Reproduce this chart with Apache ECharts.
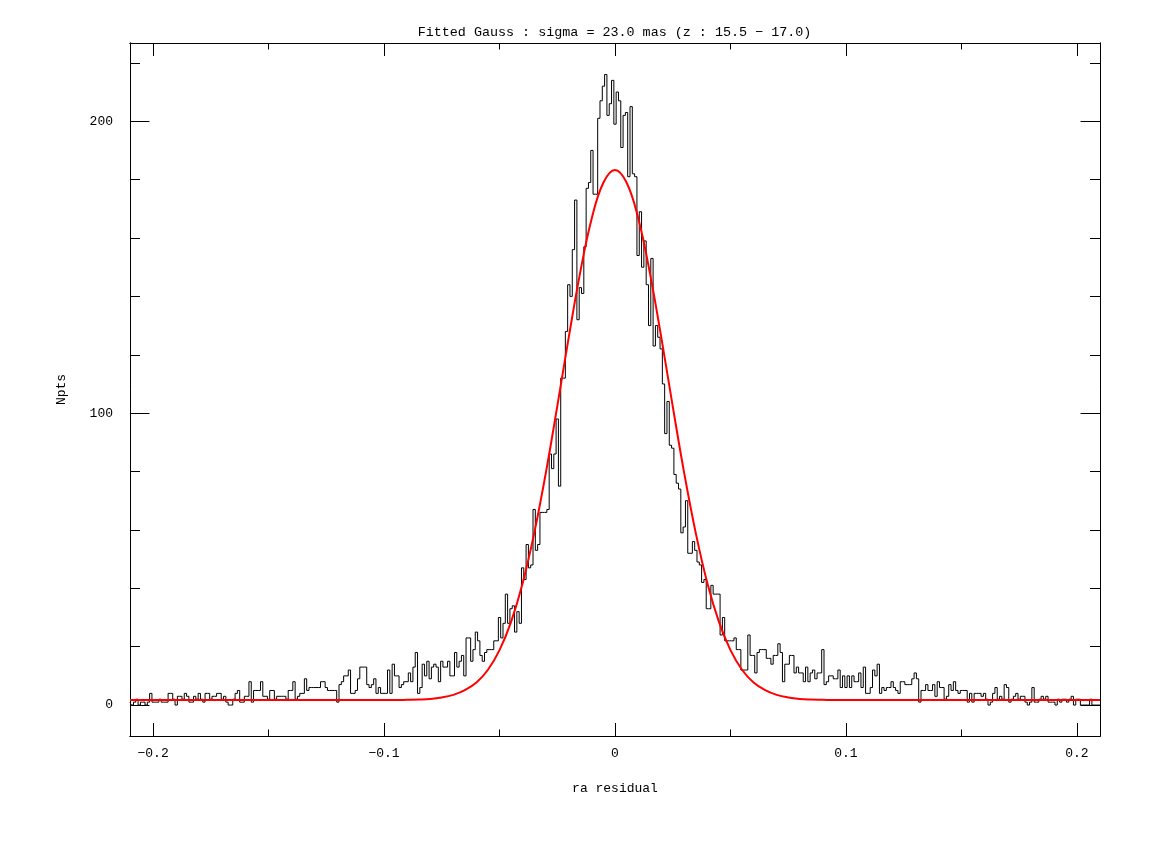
<!DOCTYPE html>
<html>
<head>
<meta charset="utf-8">
<title>Fitted Gauss</title>
<script src="https://cdn.jsdelivr.net/npm/echarts@6.0.0/dist/echarts.min.js"></script>
<style>
  html, body { margin: 0; padding: 0; background: #fff; }
  #chart { width: 1158px; height: 851px; }
</style>
</head>
<body>
<div id="chart"></div>
<script>
// histogram: bin centres start at -0.21, one bin per 0.001
const binStart = -0.21;
const binWidth = 0.001;
const counts = [
  1, 0, 1, 2, 0, 1, 1, 0, 1, 4,
  1, 1, 1, 2, 1, 1, 1, 4, 4, 2,
  0, 3, 3, 2, 4, 3, 1, 1, 3, 2,
  4, 2, 1, 4, 4, 2, 3, 3, 4, 4,
  2, 3, 1, 0, 0, 2, 4, 5, 1, 1,
  3, 3, 8, 1, 5, 5, 5, 8, 3, 3,
  2, 5, 5, 2, 3, 3, 3, 3, 2, 5,
  5, 8, 2, 3, 4, 4, 9, 5, 6, 6,
  6, 6, 6, 8, 8, 6, 5, 5, 5, 5,
  1, 7, 8, 10, 10, 12, 4, 4, 5, 9,
  13, 13, 13, 7, 6, 7, 9, 4, 6, 4,
  4, 4, 12, 4, 14, 10, 10, 6, 7, 8,
  8, 11, 8, 13, 18, 4, 6, 14, 10, 15,
  9, 13, 14, 13, 8, 15, 13, 13, 15, 10,
  10, 18, 13, 15, 17, 10, 23, 23, 15, 19,
  25, 22, 17, 15, 18, 19, 19, 19, 22, 22,
  30, 23, 28, 38, 28, 33, 34, 25, 32, 28,
  47, 43, 55, 47, 48, 67, 53, 55, 66, 66,
  66, 67, 86, 81, 86, 98, 75, 112, 112, 128,
  144, 140, 156, 173, 132, 143, 141, 157, 177, 179,
  190, 175, 175, 201, 207, 212, 216, 202, 206, 214,
  199, 210, 207, 191, 202, 203, 181, 205, 182, 181,
  154, 169, 150, 159, 144, 130, 153, 123, 130, 126,
  122, 110, 93, 104, 89, 88, 79, 76, 74, 59,
  61, 70, 52, 52, 56, 53, 49, 48, 42, 43,
  33, 33, 41, 38, 38, 38, 24, 30, 22, 22,
  22, 22, 23, 19, 19, 12, 12, 12, 24, 17,
  17, 11, 18, 19, 19, 19, 16, 16, 14, 17,
  17, 21, 18, 8, 14, 14, 17, 17, 11, 13,
  11, 11, 8, 13, 8, 11, 12, 9, 11, 11,
  19, 7, 8, 10, 10, 9, 9, 12, 6, 10,
  6, 10, 6, 10, 8, 8, 11, 6, 13, 4,
  4, 6, 12, 10, 14, 4, 6, 5, 6, 6,
  8, 6, 5, 4, 8, 8, 7, 7, 7, 9,
  11, 9, 1, 5, 5, 7, 5, 5, 7, 3,
  8, 6, 6, 2, 3, 7, 5, 8, 5, 4,
  5, 5, 5, 1, 4, 1, 4, 4, 4, 3,
  4, 2, 0, 1, 4, 6, 2, 3, 2, 7,
  6, 1, 2, 3, 4, 2, 3, 3, 1, 0,
  1, 6, 1, 1, 2, 3, 2, 3, 1, 1,
  1, 0, 2, 1, 2, 2, 1, 2, 3, 0,
  2, 2, 0, 0, 0, 0, 2, 0, 0, 0,
  0
];

// fitted gaussian
const fitX = [-0.21, -0.1, -0.095, -0.09, -0.085, -0.08, -0.075, -0.07, -0.065, -0.06,
  -0.055, -0.05, -0.045, -0.04, -0.035, -0.03, -0.025, -0.02, -0.015, -0.01,
  -0.005, 0, 0.005, 0.01, 0.015, 0.02, 0.025, 0.03, 0.035, 0.04,
  0.045, 0.05, 0.055, 0.06, 0.065, 0.07, 0.075, 0.08, 0.085, 0.09,
  0.095, 0.1, 0.21];
const fitY = [1.7, 1.7, 1.7, 1.8, 1.9, 2.1, 2.6, 3.5, 5.1, 7.7,
  12.1, 18.8, 28.5, 41.7, 58.8, 79.3, 102.3, 126.1, 148.5, 166.9,
  179.0, 183.3, 179.0, 166.9, 148.5, 126.1, 102.3, 79.3, 58.8, 41.7,
  28.5, 18.8, 12.1, 7.7, 5.1, 3.5, 2.6, 2.1, 1.9, 1.8,
  1.7, 1.7, 1.7];

const xMajor = [-0.2, -0.1, 0, 0.1, 0.2];
const xMinor = [-0.15, -0.05, 0.05, 0.15];
const yMajor = [0, 100, 200];
const yMinor = [20, 40, 60, 80, 120, 140, 160, 180, 220];

const titleText = 'Fitted Gauss : sigma = 23.0 mas (z : 15.5 \u2212 17.0)';
const fontName = '"Liberation Mono", "DejaVu Sans Mono", monospace';

const xMin = -0.21, xMax = 0.21;
const yMin = -10.6, yMax = 226.8;

const histData = counts.map((c, i) => [binStart + i * binWidth, c]);
const fitData = fitX.map((x, i) => [x, fitY[i]]);

const fmt = v => (v < 0 ? '\u2212' : '') + Math.abs(v);

function xAxis(pos, ticks, len, labels) {
  return {
    type: 'value', position: pos, min: xMin, max: xMax,
    axisLine: { show: true, onZero: false, lineStyle: { color: '#000', width: 1 } },
    axisTick: { show: true, inside: true, length: len, customValues: ticks,
      lineStyle: { color: '#000', width: 1 } },
    axisLabel: labels ? { show: true, customValues: ticks, margin: 11, color: '#000',
      fontFamily: fontName, fontSize: 13, formatter: fmt } : { show: false },
    splitLine: { show: false },
    name: labels ? 'ra residual' : '',
    nameLocation: 'middle', nameGap: 46,
    nameTextStyle: { color: '#000', fontFamily: fontName, fontSize: 13 }
  };
}

function yAxis(pos, ticks, len, labels) {
  return {
    type: 'value', position: pos, min: yMin, max: yMax,
    axisLine: { show: true, onZero: false, lineStyle: { color: '#000', width: 1 } },
    axisTick: { show: true, inside: true, length: len, customValues: ticks,
      lineStyle: { color: '#000', width: 1 } },
    axisLabel: labels ? { show: true, customValues: ticks, margin: 17, color: '#000',
      fontFamily: fontName, fontSize: 13 } : { show: false },
    splitLine: { show: false },
    name: labels ? 'Npts' : '',
    nameLocation: 'middle', nameGap: 62, nameRotate: 90,
    nameTextStyle: { color: '#000', fontFamily: fontName, fontSize: 13 }
  };
}

const chart = echarts.init(document.getElementById('chart'), null, { renderer: 'canvas' });

chart.setOption({
  animation: false,
  backgroundColor: '#fff',
  grid: { left: 130, right: 58, top: 43, bottom: 115, containLabel: false },
  graphic: [{
    type: 'text', x: 614.5, y: 32,
    style: { text: titleText, fill: '#000', font: '13.4px ' + fontName,
      textAlign: 'center', textVerticalAlign: 'middle' }
  }],
  xAxis: [
    xAxis('bottom', xMajor, 13, true),
    xAxis('bottom', xMinor, 6.5, false),
    xAxis('top', xMajor, 13, false),
    xAxis('top', xMinor, 6.5, false)
  ],
  yAxis: [
    yAxis('left', yMajor, 19.5, true),
    yAxis('left', yMinor, 10, false),
    yAxis('right', yMajor, 19.5, false),
    yAxis('right', yMinor, 10, false)
  ],
  series: [
    {
      name: 'histogram', type: 'line', step: 'middle',
      data: histData, showSymbol: false, symbol: 'none',
      lineStyle: { color: '#000', width: 1 }, z: 2
    },
    {
      name: 'fit', type: 'line', smooth: 0.4,
      data: fitData, showSymbol: false, symbol: 'none',
      lineStyle: { color: '#ff0000', width: 2 }, z: 3
    }
  ]
});
</script>
</body>
</html>
